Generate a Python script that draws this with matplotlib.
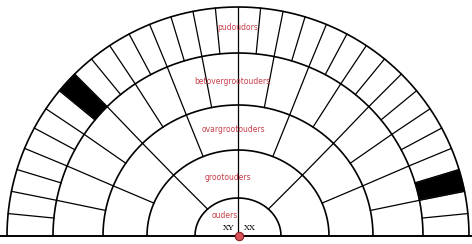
import numpy as np
import matplotlib.pyplot as plt
from matplotlib.patches import Polygon

# generation labels (inner to outer) and number of cells per ring
generations = ["ouders", "grootouders", "ovargrootouders", "betovergrootouders", "pudoudors"]
cells_per_ring = [2, 4, 8, 16, 32]
# blacked out cells: (ring index, cell index counted from the right)
black_cells = [(4, 2), (4, 24)]
sex_labels = ["XY", "XX"]

# ring geometry (slightly squashed half circle, like the scan)
rx = [43, 91, 135, 185, 231]
ry = [38, 86, 131, 183, 229]
label_xy = [(-13, 20), (-10, 58), (-5, 107), (-6, 154), (0, 208)]
red = "#c8404a"

fig = plt.figure(figsize=(4.72, 2.44), dpi=100)
ax = fig.add_axes([0, 0, 1, 1])
ax.set_xlim(-238, 234)
ax.set_ylim(-8, 236)
ax.axis("off")

t = np.linspace(0, np.pi, 400)
for a, b in zip(rx, ry):
    ax.plot(a * np.cos(t), b * np.sin(t), color="black", lw=1.2, solid_capstyle="butt")

# radial dividers for each ring
for k, n in enumerate(cells_per_ring):
    r0x = rx[k - 1] if k > 0 else 0
    r0y = ry[k - 1] if k > 0 else 0
    for j in range(1, n):
        ang = np.pi * j / n
        ax.plot([r0x * np.cos(ang), rx[k] * np.cos(ang)],
                [r0y * np.sin(ang), ry[k] * np.sin(ang)],
                color="black", lw=0.9)

# filled cells
for k, idx in black_cells:
    n = cells_per_ring[k]
    a = np.linspace(np.pi * idx / n, np.pi * (idx + 1) / n, 20)
    pts = np.concatenate([
        np.column_stack([rx[k] * np.cos(a), ry[k] * np.sin(a)]),
        np.column_stack([rx[k - 1] * np.cos(a[::-1]), ry[k - 1] * np.sin(a[::-1])]),
    ])
    ax.add_patch(Polygon(pts, closed=True, facecolor="black", edgecolor="#555555", lw=0.8))

# baseline
ax.plot([-238, 234], [0, 0], color="black", lw=1.4)

for name, (x, y) in zip(generations, label_xy):
    ax.text(x, y, name, color=red, fontsize=5.5, ha="center", va="center")

ax.text(-9, 8, sex_labels[0], fontsize=6, family="DejaVu Serif", ha="center", va="center")
ax.text(12, 8, sex_labels[1], fontsize=6, family="DejaVu Serif", ha="center", va="center")

ax.plot([1], [0], "o", ms=6, color="#d9505a", mec="#8a2020", mew=0.8, clip_on=False, zorder=5)

fig.savefig("out.png", dpi=100)
